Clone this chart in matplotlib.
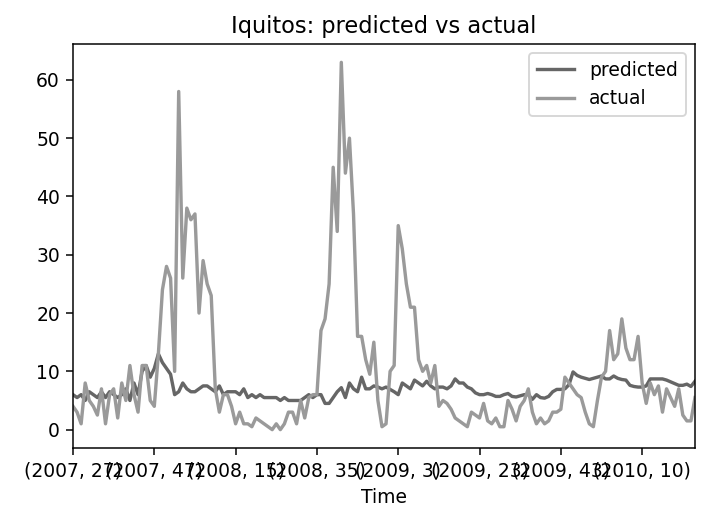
import matplotlib
matplotlib.use("Agg")
import matplotlib.pyplot as plt
import numpy as np

# weekly index (year, week) starting at (2007, 27)
start_year, start_week = 2007, 27
weeks_in_year = {2007: 52, 2008: 52, 2009: 53, 2010: 52}

actual = [4, 3, 1, 8, 5, 4, 2.5, 7, 1, 6, 7, 2, 8, 5, 11, 6, 3, 11, 11, 5,
          4, 13, 24, 28, 26, 10, 58, 26, 38, 36, 37, 20, 29, 25, 23, 7, 3, 6, 6, 4,
          1, 3, 1, 1, 0.5, 2, 1.5, 1, 0.5, 0, 1, 0, 1, 3, 3, 1, 5, 2, 5.5, 6,
          6, 17, 19, 25, 45, 34, 63, 44, 50, 37, 16, 16, 12, 9.5, 15, 5, 0.5, 1, 10, 11,
          35, 31, 25, 21, 21, 12, 10, 11, 8, 11, 4, 5, 4.5, 3.5, 2, 1.5, 1, 0.5, 3, 2.5,
          2, 4.5, 1.5, 1, 2, 0.5, 0.5, 5, 3.5, 1.5, 4, 5, 7, 3, 1, 2, 1, 1.5, 3, 3,
          3.5, 9, 8, 7, 6, 5.5, 3, 1, 0.5, 5, 9, 10, 17, 12, 13, 19, 14, 12, 12, 16,
          8, 4.5, 8, 6, 7.5, 3, 7, 5.5, 4, 7, 2.5, 1.5, 1.5, 5.5]

predicted = [6, 5.5, 6, 5, 6.5, 6, 5.5, 6.5, 5.5, 6.5, 6, 5.5, 6, 7, 5, 8, 6, 10, 11, 9,
             10.5, 13, 11.5, 10.5, 9.5, 6, 6.5, 8, 7, 6.5, 6.5, 7, 7.5, 7.5, 7, 6.5, 7.5, 6, 6.5, 6.5,
             6.5, 6, 7, 5.5, 6, 5.5, 6, 5.5, 5.5, 5.5, 5.5, 5, 5.5, 5, 5, 5, 5, 5.5, 6, 5.5,
             6, 6, 4.5, 4.5, 5.5, 6.5, 7.2, 5.5, 8, 7, 6.5, 9, 7, 7, 7.5, 7.3, 7, 7.3, 6.9, 6.5,
             6, 8, 7.5, 7, 8.5, 8, 7.5, 8.3, 7.5, 7, 7.3, 7.3, 7, 7.5, 8.7, 8, 8, 7.3, 7, 6.3,
             6, 6, 6.2, 6, 5.7, 5.7, 6, 6.2, 5.7, 5.6, 5.8, 6, 6, 5.2, 6, 5.5, 5.4, 5.7, 6.5, 6.9,
             6.9, 7, 7.7, 9.9, 9.3, 9, 8.8, 8.6, 8.8, 9, 9.2, 8.7, 8.7, 9.2, 8.8, 8.6, 8.5, 7.6, 7.4, 7.3,
             7.3, 7.5, 8.7, 8.7, 8.7, 8.7, 8.5, 8.2, 7.9, 7.6, 7.6, 7.8, 7.4, 8.3]

# build (year, week) labels
index = []
y, w = start_year, start_week
for _ in range(len(actual)):
    index.append((y, w))
    w += 1
    if w > weeks_in_year[y]:
        y += 1
        w = 1

x = np.arange(len(actual))

fig = plt.figure(figsize=(720 / 135, 521 / 135), dpi=135)
ax = fig.add_axes([73 / 720, 73 / 521, 622 / 720, 404 / 521])
ax.plot(x, predicted, color="#666666", lw=1.8, label="predicted")
ax.plot(x, actual, color="#9a9a9a", lw=1.8, label="actual")
ax.set_xlim(0, len(actual) - 1)
tick_pos = list(range(0, len(actual), 20))
ax.set_xticks(tick_pos)
ax.set_xticklabels([str(index[i]) for i in tick_pos])
ax.set_yticks([0, 10, 20, 30, 40, 50, 60])
ax.set_xlabel("Time")
ax.set_title("Iquitos: predicted vs actual")
ax.legend(loc="upper right")
fig.savefig("out.png", dpi=135)
